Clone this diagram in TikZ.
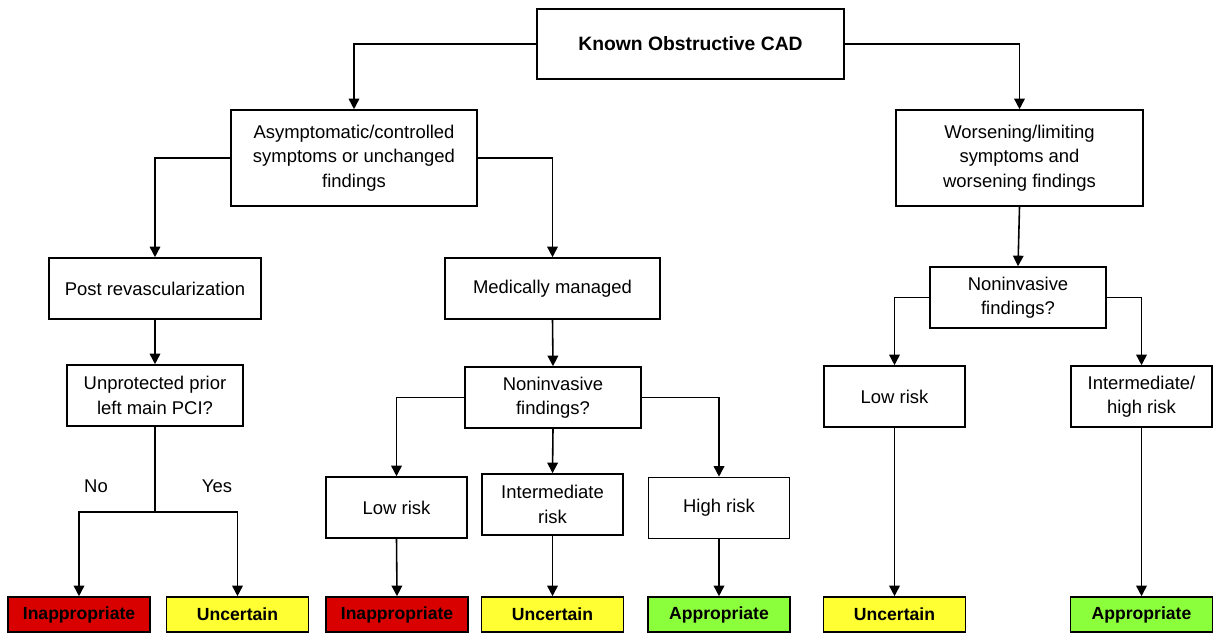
\documentclass[tikz,border=0pt]{standalone}
\usepackage{fontspec}
\setmainfont{Liberation Sans}
\usetikzlibrary{arrows.meta,positioning}
\definecolor{redbox}{RGB}{217,0,0}
\definecolor{yellowbox}{RGB}{255,255,51}
\definecolor{greenbox}{RGB}{140,255,60}

\begin{document}
\begin{tikzpicture}[x=0.02cm,y=-0.02cm,>={Triangle[width=6pt,length=6pt]},line width=0.9pt,
  box/.style = {draw, align=center, inner sep=2pt, font=\fontsize{10.5}{13.8}\selectfont},
  small/.style = {box, minimum width=2.82cm, minimum height=1.22cm},
  verdict/.style = {draw, minimum width=2.84cm, minimum height=0.7cm, inner sep=0pt, font=\fontsize{10}{12}\selectfont\bfseries},
  bad/.style = {verdict, fill=redbox},
  maybe/.style = {verdict, fill=yellowbox},
  good/.style = {verdict, fill=greenbox},]
\useasboundingbox (0,0) rectangle (1213,634);
\node (cad) at (690.5,44)[box,minimum width=6.14cm,minimum height=1.4cm,font=\fontsize{11}{13}\selectfont\bfseries] {Known Obstructive CAD};
\node (asym) at (354,158)[box,minimum width=4.92cm,minimum height=1.92cm] {Asymptomatic/controlled\\symptoms or unchanged\\findings};
\node (worse) at (1019.5,158)[box,minimum width=4.94cm,minimum height=1.92cm] {Worsening/limiting\\symptoms and\\worsening findings};
\node (post) at (155,288.5)[box,minimum width=4.24cm,minimum height=1.22cm] {Post revascularization};
\node (med) at (552.5,288.5)[box,minimum width=4.3cm,minimum height=1.22cm] {Medically managed};
\node (unprot) at (155,395.5)[box,minimum width=3.52cm,minimum height=1.22cm] {Unprotected prior\\left main PCI?};
\node (nonA) at (553,397.5)[box,minimum width=3.52cm,minimum height=1.22cm] {Noninvasive\\findings?};
\node (nonB) at (1018,297.5)[box,minimum width=3.52cm,minimum height=1.22cm] {Noninvasive\\findings?};
\node (lowA) at (396.5,507.5)[small] {Low risk};
\node (midA) at (552.5,504.5)[small] {Intermediate\\risk};
\node (highA) at (719,508)[small] {High risk};
\node (lowB) at (894.5,396.5)[small] {Low risk};
\node (inthB) at (1141.5,396.5)[small] {Intermediate/\\high risk};
\node (no) at (96,486)[font=\fontsize{10.5}{13.8}\selectfont] {No};
\node (yes) at (217,486)[font=\fontsize{10.5}{13.8}\selectfont] {Yes};
\coordinate (split) at (155,512);
% outcomes
\node (r1) at (79,614.5)[bad] {Inappropriate};
\node (y1) at (237.5,614.5)[maybe] {Uncertain};
\node (r2) at (397,614.5)[bad] {Inappropriate};
\node (y2) at (552.5,614.5)[maybe] {Uncertain};
\node (g1) at (719,614.5)[good] {Appropriate};
\node (y3) at (894.5,614.5)[maybe] {Uncertain};
\node (g2) at (1141.5,614.5)[good] {Appropriate};
\draw[->] (cad.west) -| (asym.north);
\draw[->] (cad.east) -| (worse.north);
\draw[->] (asym.west) -| (post.north);
\draw[->] (asym.east) -| (med.north);
\draw[->] (worse.south) -- (nonB.north);
\draw[->] (post.south) -- (unprot.north);
\draw[->] (med.south) -- (nonA.north);
\draw (unprot.south) -- (split);
\draw[->] (split) -| (r1.north);
\draw[->] (split) -| (y1.north);
\draw[->] (nonA.west) -| (lowA.north);
\draw[->] (nonA.south) -- (midA.north);
\draw[->] (nonA.east) -| (highA.north);
\draw[->] (nonB.west) -| (lowB.north);
\draw[->] (nonB.east) -| (inthB.north);
\draw[->] (lowA.south) -- (r2.north);
\draw[->] (midA.south) -- (y2.north);
\draw[->] (highA.south) -- (g1.north);
\draw[->] (lowB.south) -- (y3.north);
\draw[->] (inthB.south) -- (g2.north);
\end{tikzpicture}
\end{document}
